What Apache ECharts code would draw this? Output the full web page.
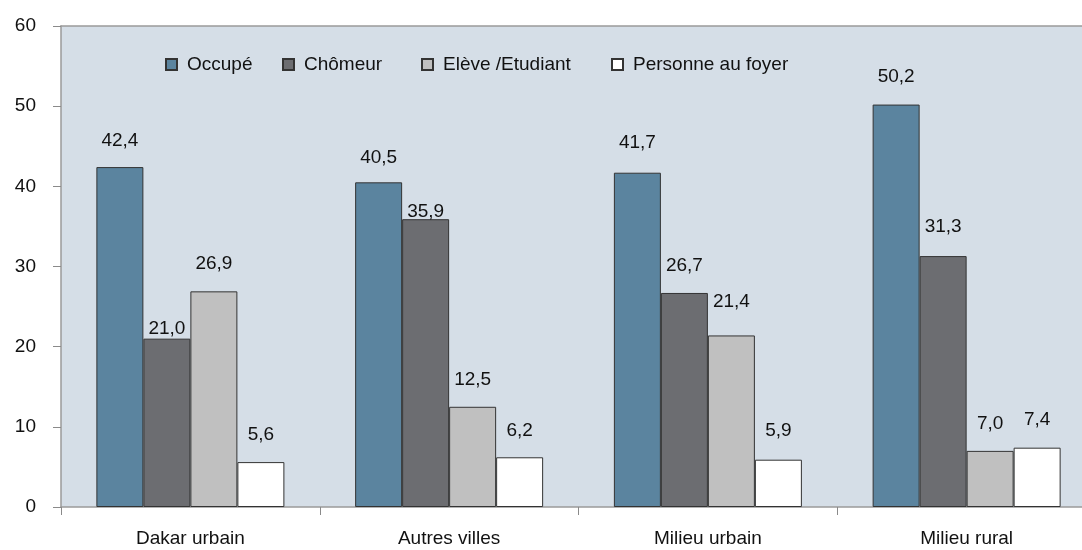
<!DOCTYPE html>
<html>
<head>
<meta charset="utf-8">
<script src="https://cdn.jsdelivr.net/npm/echarts@6/dist/echarts.min.js"></script>
<style>
  html, body { margin: 0; padding: 0; background: #ffffff; overflow: hidden; }
  #wrap { width: 1082px; height: 550px; overflow: hidden; }
  #main { width: 1100px; height: 550px; }
</style>
</head>
<body>
<div id="wrap"><div id="main"></div></div>
<script>
// categories and values
var categories = ['Dakar urbain', 'Autres villes', 'Milieu urbain', 'Milieu rural'];
var occupe = [42.4, 40.5, 41.7, 50.2];
var chomeur = [21.0, 35.9, 26.7, 31.3];
var eleve = [26.9, 12.5, 21.4, 7.0];
var foyer = [5.6, 6.2, 5.9, 7.4];
var seriesNames = ['Occupé', 'Chômeur', 'Elève /Etudiant', 'Personne au foyer'];

var FONT = '"Liberation Sans", Arial, sans-serif';

// the plot runs past the right edge of the picture, so the canvas is a bit wider than the window
var myChart = echarts.init(document.getElementById('main'), null, { renderer: 'canvas' });

function fmt(v) {
  return v.toFixed(1).replace('.', ',');
}

// label lift above each bar, as placed in the original
var lifts = [
  [17, 15, 20, 18],
  [0, -2, 18, 20],
  [18, 18, 24, 18],
  [18, 17, 19, 18]
];
var colors = ['#5b849f', '#6c6d71', '#c0c0c0', '#ffffff'];
var values = [occupe, chomeur, eleve, foyer];

var series = values.map(function (vals, s) {
  return {
    name: seriesNames[s],
    type: 'bar',
    xAxisIndex: 0,
    barWidth: 47,
    barGap: '0%',
    itemStyle: { color: colors[s], borderColor: '#333333', borderWidth: 1 },
    data: vals.map(function (v, i) {
      return {
        value: v,
        label: { distance: lifts[s][i] }
      };
    }),
    label: {
      show: true,
      position: 'top',
      color: '#111111',
      fontFamily: FONT,
      fontSize: 19,
      formatter: function (p) { return fmt(p.value); }
    }
  };
});

var legendLefts = [160, 277, 416, 606];
var legends = seriesNames.map(function (name, i) {
  return {
    data: [name],
    left: legendLefts[i],
    top: 50,
    icon: 'rect',
    itemWidth: 11,
    itemHeight: 11,
    selectedMode: false,
    textStyle: { fontFamily: FONT, fontSize: 19, color: '#111111', padding: [0, 0, 0, 5] }
  };
});

var option = {
  animation: false,
  backgroundColor: '#ffffff',
  legend: legends,
  grid: {
    left: 61,
    right: 4,
    top: 26,
    bottom: 43,
    show: true,
    backgroundColor: '#d5dee7',
    borderWidth: 0
  },
  xAxis: [
    {
      type: 'category',
      data: categories,
      axisLine: { lineStyle: { color: '#9a9a9a', width: 1.5 } },
      axisTick: { show: true, length: 8, lineStyle: { color: '#8a8a8a' } },
      axisLabel: { margin: 22, color: '#111111', fontFamily: FONT, fontSize: 19 }
    },
    {
      // top edge line of the plot area
      type: 'category',
      position: 'top',
      data: categories,
      axisLine: { show: true, lineStyle: { color: '#9a9a9a', width: 1.5 } },
      axisTick: { show: false },
      axisLabel: { show: false }
    }
  ],
  yAxis: {
    type: 'value',
    min: 0,
    max: 60,
    interval: 10,
    axisLine: { show: true, lineStyle: { color: '#9a9a9a', width: 1.5 } },
    axisTick: { show: true, length: 8, lineStyle: { color: '#8a8a8a' } },
    splitLine: { show: false },
    axisLabel: { margin: 25, color: '#111111', fontFamily: FONT, fontSize: 19 }
  },
  series: series
};

myChart.setOption(option);
</script>
</body>
</html>
